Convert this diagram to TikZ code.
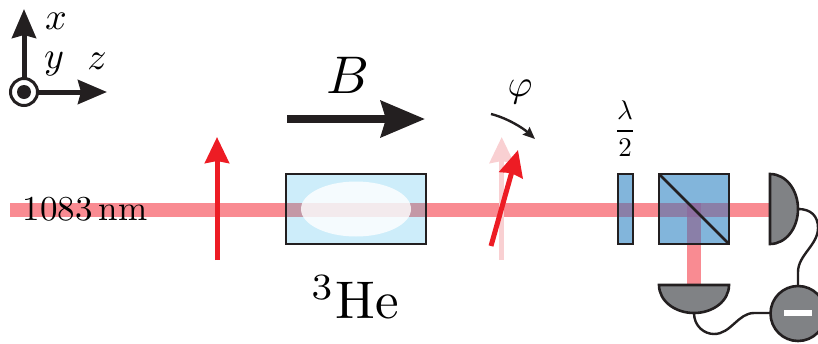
\documentclass[tikz,border=0pt]{standalone}
\usetikzlibrary{arrows.meta}
\definecolor{ink}{HTML}{231F20}
\definecolor{beam}{HTML}{F98B92}
\definecolor{cellfill}{HTML}{CDEDFA}
\definecolor{cellbeam}{HTML}{C498A6}
\definecolor{optic}{HTML}{82B5DB}
\definecolor{opticbeam}{HTML}{8A7FA8}
\definecolor{opticdark}{HTML}{8C6E9F}
\definecolor{detector}{HTML}{808285}
\definecolor{spin}{HTML}{ED1C24}
\definecolor{spinpale}{HTML}{F9D0D2}
\tikzset{
  x=1pt,y=-1pt,
  outline/.style={draw=ink,line width=2.6pt},
  wire/.style={draw=ink,line width=2.4pt},
  axisarrow/.style={ink,line width=5pt,-{Stealth[length=29pt,width=24pt,inset=3pt]}},
  fieldarrow/.style={ink,line width=8pt,-{Stealth[length=44pt,width=36pt,inset=5pt]}},
  spinarrow/.style={line width=5pt,-{Stealth[length=26pt,width=24pt,inset=2pt]}},
  rotarrow/.style={ink,line width=2.4pt,-{Stealth[length=12pt,width=10pt,inset=1.5pt]}},
  axislabel/.style={text=black,inner sep=0pt,scale=3.8},
  biglabel/.style={text=black,inner sep=0pt,scale=5.3},
  midlabel/.style={text=black,inner sep=0pt,scale=3.5},
  smalllabel/.style={text=black,inner sep=0pt,scale=2.7},
}
\begin{document}
\begin{tikzpicture}
\useasboundingbox (0,0) rectangle (818,343);
% axes
\coordinate (origin) at (24,92);
\coordinate (xtip) at (24,9);
\coordinate (ztip) at (107,92);
\draw[axisarrow] (origin) -- (xtip);
\draw[axisarrow] (origin) -- (ztip);
\fill[white] (origin) circle (14);
\draw[ink,line width=3pt] (origin) circle (13.5);
\fill[ink] (origin) circle (7);
\node[axislabel] (xl) at (56,21) {$x$};
\node[axislabel] (yl) at (54,64) {$y$};
\node[axislabel] (zl) at (97,61) {$z$};
% beams
\fill[beam] (10,203) rectangle (770,217);
\fill[beam] (687,210) rectangle (701,285);
% cell
\fill[cellfill] (286,174) rectangle (426,244);
\fill[cellbeam] (286,203) rectangle (426,217);
\fill[white,opacity=.8] (356,209) ellipse (55 and 27.5);
\draw[outline] (286,174) rectangle (426,244);
% plate
\fill[optic] (618,174) rectangle (633,244);
\fill[opticbeam] (618,203) rectangle (633,217);
\draw[outline] (618,174) rectangle (633,244);
% cube
\fill[optic] (659,174) rectangle (729,244);
\fill[opticbeam] (659,203) rectangle (729,217);
\fill[opticbeam] (687,217) rectangle (701,244);
\fill[opticdark] (687,203) rectangle (701,217);
\draw[outline] (659,174) rectangle (729,244);
\draw[outline] (659,174) -- (729,244);
% labels
\node[midlabel] (wl) at (85,209) {1083\,nm};
\node[biglabel] (he) at (355,297) {$^3$He};
\node[biglabel] (bl) at (348,75) {$B$};
\node[axislabel] (phil) at (520,92) {$\varphi$};
\node[smalllabel] (lam) at (625,128.5) {$\displaystyle\frac{\lambda}{2}$};
% field
\coordinate (bs) at (287,119);
\coordinate (bt) at (425,119);
\draw[fieldarrow] (bs) -- (bt);
% spins
\coordinate (s1) at (217,260);
\coordinate (t1) at (217,137);
\draw[spinarrow,spin] (s1) -- (t1);
\coordinate (s2) at (501.7,260);
\coordinate (t2) at (501.7,137);
\draw[spinarrow,spinpale] (s2) -- (t2);
\coordinate (s3) at (491,246);
\coordinate (t3) at (518,150);
\draw[spinarrow,spin] (s3) -- (t3);
% rotation
\coordinate (rs) at (491,114);
\coordinate (rt) at (535,139);
\draw[rotarrow] (rs) .. controls (507,118) and (523,128) .. (rt);
% wires
\coordinate (d1) at (798,209);
\coordinate (d2) at (694,313);
\coordinate (ctop) at (798,285);
\coordinate (cleft) at (770,313);
\draw[wire] (d1) .. controls (811,209) and (818,216) .. (818,228) .. controls (818,245) and (798,255) .. (798,272) -- (ctop);
\draw[wire] (d2) .. controls (694,326) and (704,334) .. (714,334) .. controls (731,334) and (738,313) .. (754,313) -- (cleft);
% detectors
\draw[outline,fill=detector] (770,174) .. controls (786,174) and (798,190) .. (798,209) .. controls (798,228) and (786,244) .. (770,244) -- cycle;
\draw[outline,fill=detector] (659,285) -- (729,285) .. controls (729,301) and (713,313) .. (694,313) .. controls (675,313) and (659,301) .. (659,285) -- cycle;
\draw[outline,fill=detector] (798,313.5) circle (27.5);
\fill[white] (784,310) rectangle (812,316);
\end{tikzpicture}
\end{document}
